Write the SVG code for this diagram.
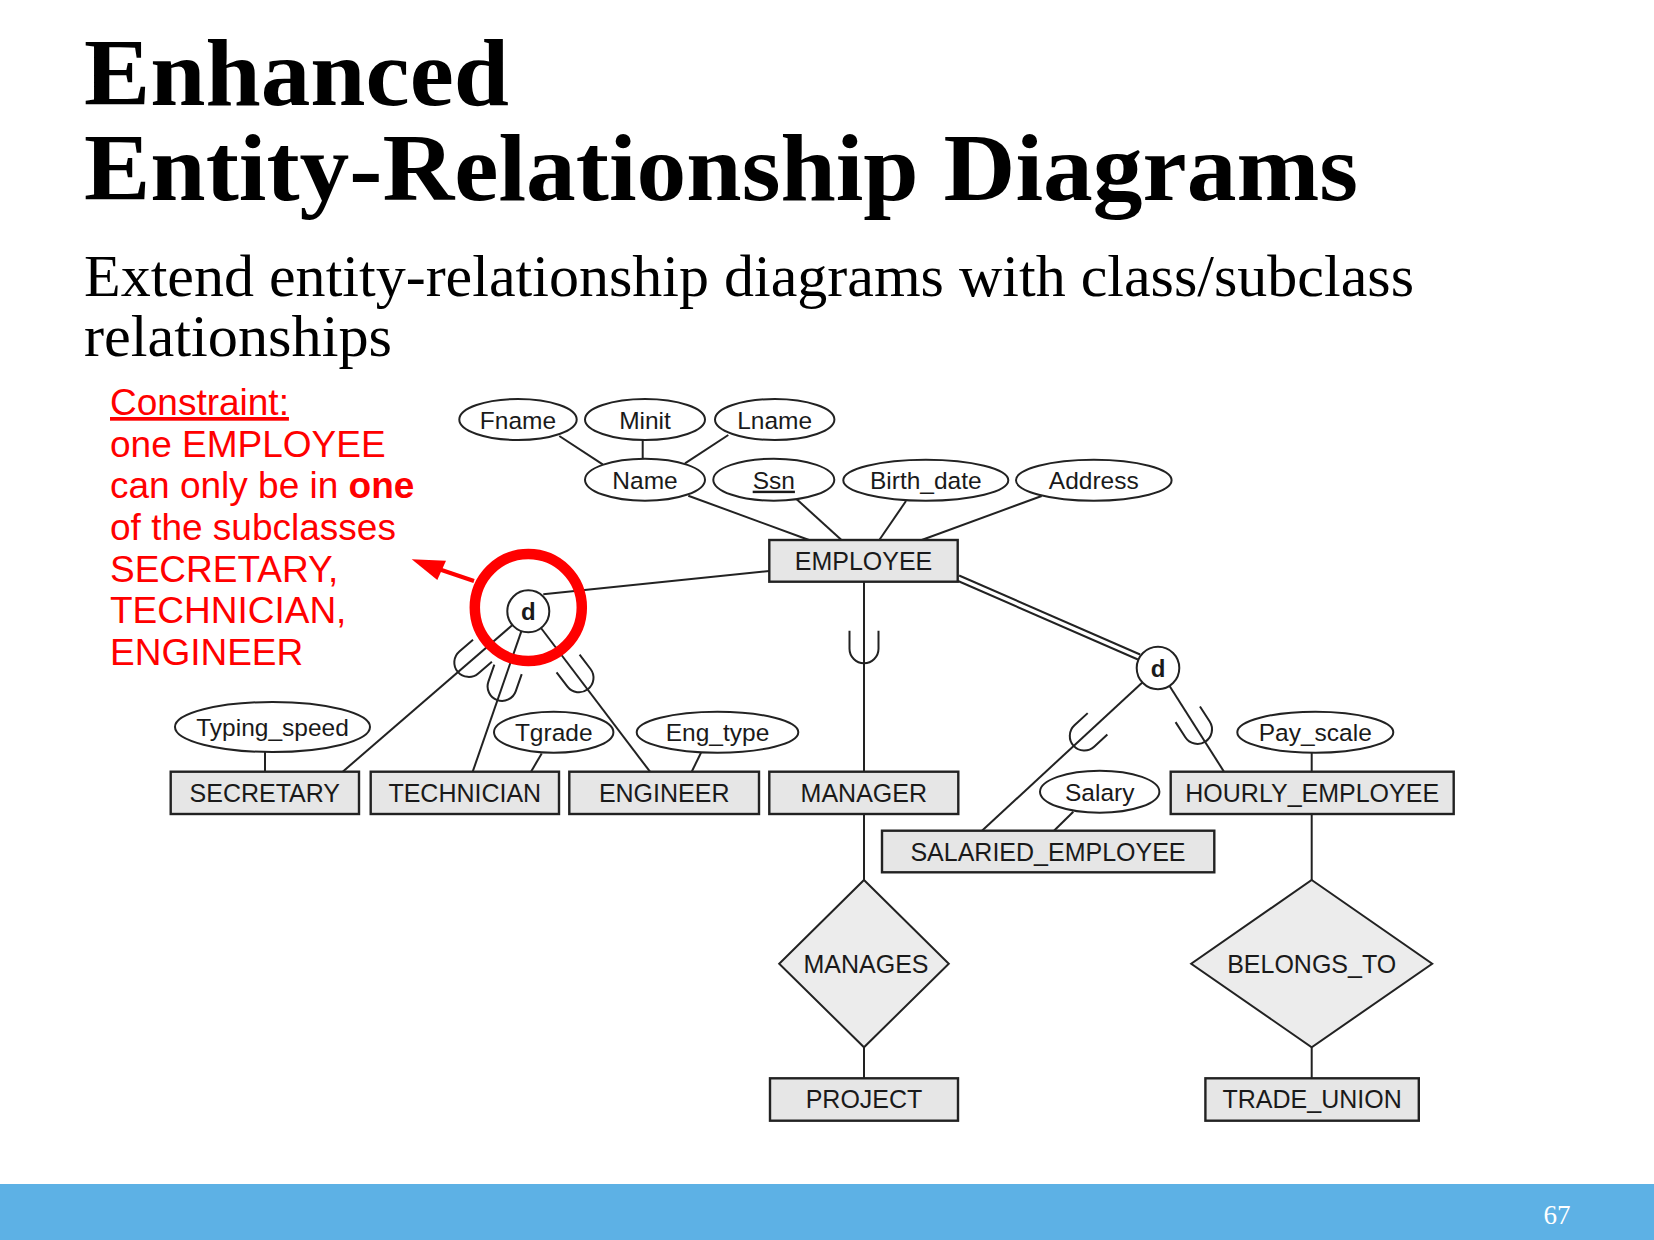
<svg xmlns="http://www.w3.org/2000/svg" width="1654" height="1240" viewBox="0 0 1654 1240">
<style>
.ent rect{fill:#e6e6e6;stroke:#222;stroke-width:2.4}
.attr ellipse{fill:#fff;stroke:#222;stroke-width:2}
.rel polygon{fill:#ececec;stroke:#222;stroke-width:2}
.lbl{font-family:"Liberation Sans",Arial,sans-serif;font-size:25px;fill:#1a1a1a;text-anchor:middle}
.albl{font-family:"Liberation Sans",Arial,sans-serif;font-size:24.5px;fill:#1a1a1a;text-anchor:middle}
.spec circle{fill:#fff;stroke:#222;stroke-width:2}
.spec text{font-family:"Liberation Sans",Arial,sans-serif;font-size:24px;font-weight:bold;fill:#1a1a1a;text-anchor:middle}
#connectors line{stroke:#222;stroke-width:2;fill:none}
.red{font-family:"Liberation Sans",Arial,sans-serif;font-size:37px;fill:#ff0000}
</style>
<defs>
<path id="sub" d="M -14.5 -18 V 0 A 14.5 14.5 0 0 0 14.5 0 V -18" fill="none" stroke="#222" stroke-width="2"/>
</defs>
<rect x="0" y="0" width="1654" height="1240" fill="#fff"/>
<!-- Title -->
<text x="84" y="105" font-family="'Liberation Serif','Times New Roman',serif" font-weight="bold" font-size="96" textLength="425" lengthAdjust="spacingAndGlyphs" fill="#000">Enhanced</text>
<text x="84" y="200" font-family="'Liberation Serif','Times New Roman',serif" font-weight="bold" font-size="96" textLength="1274" lengthAdjust="spacingAndGlyphs" fill="#000">Entity-Relationship Diagrams</text>
<text x="84" y="296" font-family="'Liberation Serif','Times New Roman',serif" font-size="60" textLength="1330" lengthAdjust="spacingAndGlyphs" fill="#000">Extend entity-relationship diagrams with class/subclass</text>
<text x="84" y="356" font-family="'Liberation Serif','Times New Roman',serif" font-size="60" textLength="308" lengthAdjust="spacingAndGlyphs" fill="#000">relationships</text>

<!-- Connectors -->
<g id="connectors">
<line x1="559.3" y1="436" x2="602.7" y2="464.3"/>
<line x1="642.7" y1="440" x2="642.7" y2="458.3"/>
<line x1="728.3" y1="435" x2="685" y2="463.3"/>
<line x1="688.3" y1="495.7" x2="809" y2="540"/>
<line x1="796.7" y1="499.3" x2="841.5" y2="540"/>
<line x1="906" y1="501" x2="879.3" y2="540"/>
<line x1="1041.7" y1="496" x2="921.7" y2="540"/>
<!-- left specialization -->
<line x1="543.3" y1="594.3" x2="769.3" y2="571"/>
<line x1="512.4" y1="625" x2="342.7" y2="771.7"/>
<line x1="521.4" y1="631.1" x2="472.7" y2="771.7"/>
<line x1="541" y1="628" x2="650" y2="771.7"/>
<use href="#sub" transform="translate(468.8,662.4) rotate(49.35)"/>
<use href="#sub" transform="translate(502.1,686.4) rotate(19.23)"/>
<use href="#sub" transform="translate(579,677.8) rotate(-37.36)"/>
<!-- manager -->
<line x1="864" y1="581.7" x2="864" y2="771.7"/>
<use href="#sub" transform="translate(864,648.8)"/>
<!-- right specialization (double line = total) -->
<line x1="959.1" y1="575.5" x2="1140.1" y2="654.5"/>
<line x1="956.9" y1="580.5" x2="1137.9" y2="659.5"/>
<line x1="1142.6" y1="682.2" x2="981.7" y2="831"/>
<line x1="1169.4" y1="685.7" x2="1224" y2="771.7"/>
<use href="#sub" transform="translate(1084.3,736) rotate(47.3)"/>
<use href="#sub" transform="translate(1197.5,729.4) rotate(-32.73)"/>
<!-- subclass attributes -->
<line x1="265" y1="752" x2="265" y2="771.7"/>
<line x1="541.7" y1="753.5" x2="531" y2="771.7"/>
<line x1="701" y1="752.7" x2="691.7" y2="771.7"/>
<line x1="1311.7" y1="752.7" x2="1311.7" y2="771.7"/>
<line x1="1073.3" y1="811.7" x2="1054" y2="830.7"/>
<!-- relationships -->
<line x1="864" y1="814" x2="864" y2="880"/>
<line x1="864" y1="1047.3" x2="864" y2="1078.3"/>
<line x1="1311.7" y1="814" x2="1311.7" y2="880"/>
<line x1="1311.7" y1="1047.3" x2="1311.7" y2="1078.3"/>
</g>

<!-- Attributes -->
<g id="attr-fname" class="attr"><ellipse cx="518" cy="419.5" rx="58.7" ry="20.5"/><text class="albl" x="518" y="428.5">Fname</text></g>
<g id="attr-minit" class="attr"><ellipse cx="645" cy="419.5" rx="60" ry="20.5"/><text class="albl" x="645" y="428.5">Minit</text></g>
<g id="attr-lname" class="attr"><ellipse cx="774.7" cy="419.5" rx="59.7" ry="20.5"/><text class="albl" x="774.7" y="428.5">Lname</text></g>
<g id="attr-name" class="attr"><ellipse cx="645" cy="479.7" rx="60" ry="21"/><text class="albl" x="645" y="488.7">Name</text></g>
<g id="attr-ssn" class="attr"><ellipse cx="773.8" cy="479.7" rx="60.5" ry="21"/><text class="albl" x="773.8" y="488.7" text-decoration="underline">Ssn</text></g>
<g id="attr-birth" class="attr"><ellipse cx="925.8" cy="480.3" rx="82.5" ry="20.5"/><text class="albl" x="925.8" y="489.3">Birth_date</text></g>
<g id="attr-address" class="attr"><ellipse cx="1093.8" cy="480.3" rx="77.8" ry="20.5"/><text class="albl" x="1093.8" y="489.3">Address</text></g>
<g id="attr-typing" class="attr"><ellipse cx="272.5" cy="727" rx="97.5" ry="25"/><text class="albl" x="272.5" y="736">Typing_speed</text></g>
<g id="attr-tgrade" class="attr"><ellipse cx="553.7" cy="732.2" rx="59.7" ry="20.5"/><text class="albl" x="553.7" y="741.2">Tgrade</text></g>
<g id="attr-engtype" class="attr"><ellipse cx="717.5" cy="732.2" rx="80.8" ry="20.5"/><text class="albl" x="717.5" y="741.2">Eng_type</text></g>
<g id="attr-payscale" class="attr"><ellipse cx="1315.3" cy="732.2" rx="78" ry="20.5"/><text class="albl" x="1315.3" y="741.2">Pay_scale</text></g>
<g id="attr-salary" class="attr"><ellipse cx="1099.7" cy="791.7" rx="59.7" ry="21"/><text class="albl" x="1099.7" y="800.7">Salary</text></g>

<!-- Entities -->
<g id="ent-employee" class="ent"><rect x="769.3" y="540" width="188.4" height="41.7"/><text class="lbl" x="863.5" y="569.5">EMPLOYEE</text></g>
<g id="ent-secretary" class="ent"><rect x="170.7" y="771.7" width="188.3" height="42.3"/><text class="lbl" x="264.8" y="801.7">SECRETARY</text></g>
<g id="ent-technician" class="ent"><rect x="370.7" y="771.7" width="188.3" height="42.3"/><text class="lbl" x="464.8" y="801.7">TECHNICIAN</text></g>
<g id="ent-engineer" class="ent"><rect x="569.3" y="771.7" width="189.7" height="42.3"/><text class="lbl" x="664.2" y="801.7">ENGINEER</text></g>
<g id="ent-manager" class="ent"><rect x="769.3" y="771.7" width="189" height="42.3"/><text class="lbl" x="863.8" y="801.7">MANAGER</text></g>
<g id="ent-hourly" class="ent"><rect x="1170.7" y="771.7" width="283" height="42.3"/><text class="lbl" x="1312.2" y="801.7">HOURLY_EMPLOYEE</text></g>
<g id="ent-salaried" class="ent"><rect x="882" y="830.7" width="332.3" height="41.6"/><text class="lbl" x="1048" y="860.5">SALARIED_EMPLOYEE</text></g>
<g id="ent-project" class="ent"><rect x="770" y="1078.3" width="188" height="42.4"/><text class="lbl" x="864" y="1108.3">PROJECT</text></g>
<g id="ent-tradeunion" class="ent"><rect x="1205.4" y="1078.3" width="213.4" height="42.4"/><text class="lbl" x="1312.1" y="1108.3">TRADE_UNION</text></g>

<!-- Relationships -->
<g id="rel-manages" class="rel"><polygon points="864,880 948.8,963.7 864,1047.3 779.2,963.7"/><text class="lbl" x="866" y="972.5">MANAGES</text></g>
<g id="rel-belongs" class="rel"><polygon points="1311.7,880 1432.2,963.7 1311.7,1047.3 1191.2,963.7"/><text class="lbl" x="1311.7" y="972.5">BELONGS_TO</text></g>

<!-- Specialization circles -->
<g id="spec-left" class="spec"><circle cx="528.3" cy="611.3" r="21"/><text x="528.3" y="619.8">d</text></g>
<g id="spec-right" class="spec"><circle cx="1158" cy="668" r="21.3"/><text x="1158" y="676.5">d</text></g>

<!-- Annotation -->
<g id="annotation">
<circle cx="528.3" cy="607.5" r="53.5" fill="none" stroke="#ff0000" stroke-width="10.5"/>
<line x1="474" y1="581" x2="440" y2="569.5" stroke="#ff0000" stroke-width="4"/>
<polygon points="411.7,559.3 446,560.7 437.3,580" fill="#ff0000"/>
<text class="red" x="110" y="415" text-decoration="underline">Constraint:</text>
<text class="red" x="110" y="456.5">one EMPLOYEE</text>
<text class="red" x="110" y="498">can only be in <tspan font-weight="bold">one</tspan></text>
<text class="red" x="110" y="540">of the subclasses</text>
<text class="red" x="110" y="581.5">SECRETARY,</text>
<text class="red" x="110" y="623">TECHNICIAN,</text>
<text class="red" x="110" y="665">ENGINEER</text>
</g>

<!-- Footer -->
<rect x="0" y="1184" width="1654" height="56" fill="#5db1e5"/>
<text x="1557" y="1224" font-family="'Liberation Serif','Times New Roman',serif" font-size="27" fill="#fff" text-anchor="middle">67</text>
</svg>
